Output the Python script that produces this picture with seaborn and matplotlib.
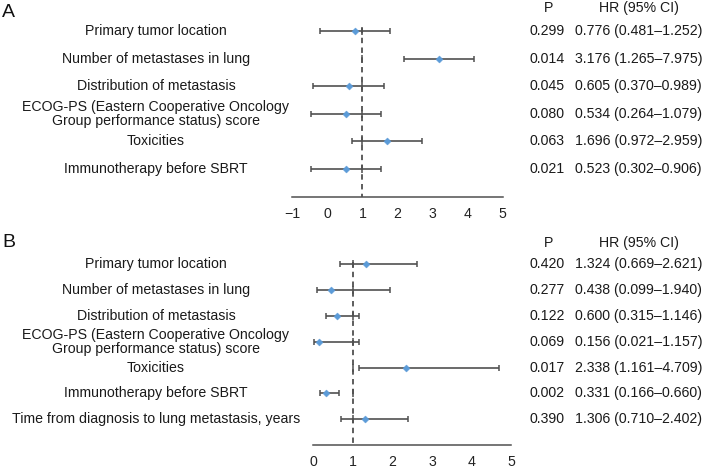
import matplotlib
matplotlib.use('Agg')
import matplotlib.pyplot as plt
import matplotlib.transforms as mtransforms
import seaborn as sns
import pandas as pd

# --- data ---
labels_a = ['Primary tumor location', 'Number of metastases in lung',
            'Distribution of metastasis',
            'ECOG-PS (Eastern Cooperative Oncology\nGroup performance status) score',
            'Toxicities', 'Immunotherapy before SBRT']
hr_a = [0.776, 3.176, 0.605, 0.534, 1.696, 0.523]
ci_lo_a = [0.481, 1.265, 0.370, 0.264, 0.972, 0.302]
ci_hi_a = [1.252, 7.975, 0.989, 1.079, 2.959, 0.906]
p_a = ['0.299', '0.014', '0.045', '0.080', '0.063', '0.021']
# whiskers as drawn in panel A
bar_lo_a = [-0.22, 2.18, -0.40, -0.47, 0.70, -0.48]
bar_hi_a = [1.78, 4.18, 1.61, 1.53, 2.70, 1.52]

labels_b = ['Primary tumor location', 'Number of metastases in lung',
            'Distribution of metastasis',
            'ECOG-PS (Eastern Cooperative Oncology\nGroup performance status) score',
            'Toxicities', 'Immunotherapy before SBRT',
            'Time from diagnosis to lung metastasis, years']
hr_b = [1.324, 0.438, 0.600, 0.156, 2.338, 0.331, 1.306]
ci_lo_b = [0.669, 0.099, 0.315, 0.021, 1.161, 0.166, 0.710]
ci_hi_b = [2.621, 1.940, 1.146, 1.157, 4.709, 0.660, 2.402]
p_b = ['0.420', '0.277', '0.122', '0.069', '0.017', '0.002', '0.390']

ticks_a = [-1, 0, 1, 2, 3, 4, 5]
ticks_b = [0, 1, 2, 3, 4, 5]

sns.set_style('white')
plt.rcParams['font.family'] = ['Liberation Sans', 'DejaVu Sans']

W, H = 704, 472
fig = plt.figure(figsize=(W / 100, H / 100), dpi=100)

line_col = '#505050'
pt_col = '#5b9bd8'
txt_col = '#1a1a1a'


def forest(rect, labels, hr, lo, hi, pvals, ci_lo, ci_hi, xlim, ticks, ybottom, letter, letter_y):
    left, top, right, bottom = rect
    ax = fig.add_axes([left / W, 1 - bottom / H, (right - left) / W, (bottom - top) / H])
    n = len(labels)
    df = pd.DataFrame({'row': range(n), 'hr': hr, 'lo': lo, 'hi': hi})
    ax.errorbar(df['hr'], df['row'], xerr=[df['hr'] - df['lo'], df['hi'] - df['hr']],
                fmt='none', ecolor=line_col, elinewidth=1.2, capsize=2.5, capthick=1.1, zorder=2)
    ax.plot([1, 1], [-0.1, ybottom], color=line_col, lw=1.3, ls=(0, (3, 2.4)), zorder=1)
    ax.scatter([1] * n, df['row'], marker='|', s=30, color=line_col, lw=1.1, zorder=2)
    sns.scatterplot(data=df, x='hr', y='row', marker='D', s=13, color=pt_col,
                    edgecolor=pt_col, linewidth=0.3, ax=ax, zorder=3)
    ax.set_xlim(*xlim)
    ax.set_ylim(ybottom, -0.9)
    ax.set_xticks(ticks)
    ax.set_yticks([])
    ax.set_xlabel('')
    ax.set_ylabel('')
    for s in ['top', 'right', 'left']:
        ax.spines[s].set_visible(False)
    ax.spines['bottom'].set_color(line_col)
    ax.spines['bottom'].set_linewidth(1.1)
    ax.tick_params(axis='x', direction='out', length=4, width=1.1, color=line_col,
                   labelsize=10.2, pad=3, labelcolor='#222222')
    tr = mtransforms.blended_transform_factory(fig.transFigure, ax.transData)
    for i in range(n):
        ax.text(156 / W, i, labels[i], transform=tr, ha='center', va='center',
                fontsize=10.2, linespacing=0.95, color=txt_col)
        ax.text(565 / W, i, pvals[i], transform=tr, ha='right', va='center',
                fontsize=10.2, color=txt_col)
        ax.text(575 / W, i, f'{hr[i]:.3f} ({ci_lo[i]:.3f}\u2013{ci_hi[i]:.3f})', transform=tr,
                ha='left', va='center', fontsize=10.2, color=txt_col)
    ax.text(549 / W, -0.82, 'P', transform=tr, ha='center', va='center', fontsize=10.2, color=txt_col)
    ax.text(638.5 / W, -0.82, 'HR (95% CI)', transform=tr, ha='center', va='center',
            fontsize=10.2, color=txt_col)
    fig.text(2 / W, 1 - letter_y / H, letter, ha='left', va='center', fontsize=14, color='#111111')
    return ax


# panel A: rows 31..169 px, axis at 197 px
sp_a = (169 - 31) / 5
forest((292.3, 31 - 0.9 * sp_a, 502.7, 197), labels_a, hr_a, bar_lo_a, bar_hi_a, p_a,
       ci_lo_a, ci_hi_a, (-1, 5), ticks_a, 5 + (197 - 169) / sp_a, 'A', 12.5)

# panel B: rows 264..419 px, axis at 445 px
sp_b = (419.3 - 264.3) / 6
forest((313.3, 264.3 - 0.9 * sp_b, 511, 445), labels_b, hr_b, ci_lo_b, ci_hi_b, p_b,
       ci_lo_b, ci_hi_b, (0, 5), ticks_b, 6 + (445 - 419.3) / sp_b, 'B', 243)

fig.savefig('out.png', dpi=100)
